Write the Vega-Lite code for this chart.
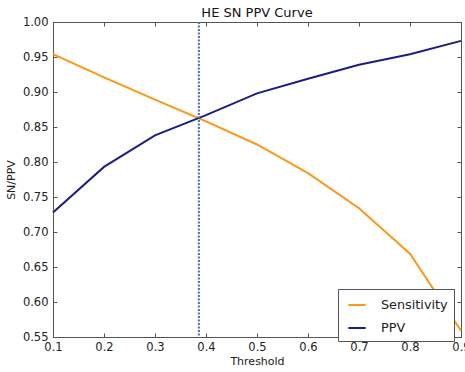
{
  "$schema": "https://vega.github.io/schema/vega-lite/v6.json",
  "width": 408,
  "height": 315,
  "autosize": {"type": "none"},
  "padding": {"left": 53, "top": 22, "right": 4, "bottom": 35},
  "background": "white",
  "config": {
    "font": "DejaVu Sans",
    "view": {"stroke": "#555", "strokeWidth": 1},
    "axis": {
      "grid": false,
      "domainColor": "#555",
      "tickColor": "#555",
      "labelColor": "#222",
      "labelFont": "DejaVu Sans",
      "labelFontSize": 11.5,
      "titleFont": "DejaVu Sans",
      "titleFontSize": 11,
      "titleFontWeight": "normal",
      "titleColor": "#222"
    }
  },
  "title": {"text": "HE SN PPV Curve", "font": "DejaVu Sans", "fontSize": 13, "fontWeight": "normal", "color": "#111", "offset": -4},
  "datasets": {
    "curves": [
      {"threshold": 0.1, "value": 0.954, "series": "Sensitivity"},
      {"threshold": 0.2, "value": 0.921, "series": "Sensitivity"},
      {"threshold": 0.3, "value": 0.889, "series": "Sensitivity"},
      {"threshold": 0.4, "value": 0.858, "series": "Sensitivity"},
      {"threshold": 0.5, "value": 0.825, "series": "Sensitivity"},
      {"threshold": 0.6, "value": 0.784, "series": "Sensitivity"},
      {"threshold": 0.7, "value": 0.734, "series": "Sensitivity"},
      {"threshold": 0.8, "value": 0.669, "series": "Sensitivity"},
      {"threshold": 0.9, "value": 0.559, "series": "Sensitivity"},
      {"threshold": 0.1, "value": 0.728, "series": "PPV"},
      {"threshold": 0.2, "value": 0.793, "series": "PPV"},
      {"threshold": 0.3, "value": 0.838, "series": "PPV"},
      {"threshold": 0.4, "value": 0.867, "series": "PPV"},
      {"threshold": 0.5, "value": 0.898, "series": "PPV"},
      {"threshold": 0.6, "value": 0.919, "series": "PPV"},
      {"threshold": 0.7, "value": 0.939, "series": "PPV"},
      {"threshold": 0.8, "value": 0.954, "series": "PPV"},
      {"threshold": 0.9, "value": 0.973, "series": "PPV"}
    ],
    "cut": [{"threshold": 0.386}]
  },
  "resolve": {"axis": {"x": "independent", "y": "independent"}},
  "layer": [
    {
      "data": {"name": "curves"},
      "mark": {"type": "line", "strokeWidth": 2},
      "encoding": {
        "x": {
          "field": "threshold", "type": "quantitative",
          "scale": {"domain": [0.1, 0.9], "nice": false, "zero": false},
          "axis": {"title": "Threshold", "values": [0.1, 0.2, 0.3, 0.4, 0.5, 0.6, 0.7, 0.8, 0.9], "format": ".1f", "tickSize": -4, "labelPadding": 8, "titlePadding": 3, "labelFlush": false}
        },
        "y": {
          "field": "value", "type": "quantitative",
          "scale": {"domain": [0.55, 1.0], "nice": false, "zero": false},
          "axis": {"title": "SN/PPV", "values": [0.55, 0.6, 0.65, 0.7, 0.75, 0.8, 0.85, 0.9, 0.95, 1.0], "format": ".2f", "tickSize": -4, "labelPadding": 9, "titlePadding": 6}
        },
        "color": {
          "field": "series", "type": "nominal",
          "scale": {"domain": ["Sensitivity", "PPV"], "range": ["#FF9618", "#1C1C8A"]},
          "legend": {
            "title": null,
            "orient": "none",
            "legendX": 285,
            "legendY": 267,
            "direction": "vertical",
            "symbolType": "stroke",
            "symbolSize": 300,
            "symbolStrokeWidth": 2,
            "symbolOffset": 3,
            "labelFont": "DejaVu Sans",
            "labelFontSize": 12.8,
            "labelColor": "#222",
            "labelOffset": 14,
            "rowPadding": 6,
            "padding": 6,
            "strokeColor": "#555",
            "fillColor": "white",
            "cornerRadius": 0
          }
        }
      }
    },
    {
      "data": {"name": "cut"},
      "mark": {"type": "rule", "color": "#3C6FC0", "strokeWidth": 2, "strokeDash": [2, 1.5]},
      "encoding": {
        "x": {"field": "threshold", "type": "quantitative", "axis": {"orient": "top", "labels": false, "title": null, "values": [0.1, 0.2, 0.3, 0.4, 0.5, 0.6, 0.7, 0.8, 0.9], "tickSize": -4}}
      }
    },
    {
      "data": {"name": "curves"},
      "mark": {"type": "line", "opacity": 0},
      "encoding": {
        "x": {"field": "threshold", "type": "quantitative", "axis": null},
        "y": {"field": "value", "type": "quantitative", "axis": {"orient": "right", "labels": false, "title": null, "values": [0.55, 0.6, 0.65, 0.7, 0.75, 0.8, 0.85, 0.9, 0.95, 1.0], "tickSize": -4}}
      }
    }
  ]
}
